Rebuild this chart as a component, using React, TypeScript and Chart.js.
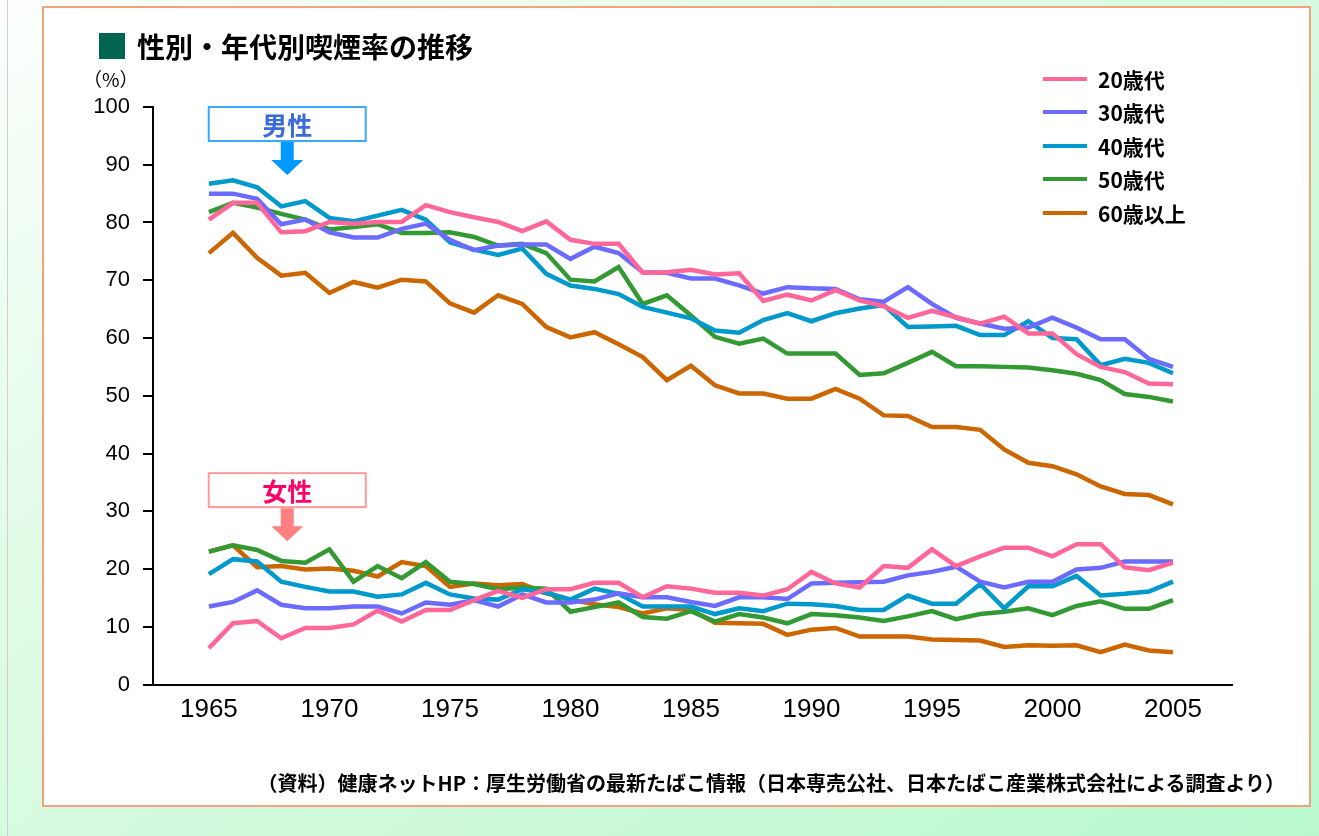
import React, { useEffect, useRef } from "react";
import { Chart, registerables } from "chart.js";

Chart.register(...registerables);

// ---------- data ----------
const years = [
  1965, 1966, 1967, 1968, 1969, 1970, 1971, 1972, 1973, 1974,
  1975, 1976, 1977, 1978, 1979, 1980, 1981, 1982, 1983, 1984,
  1985, 1986, 1987, 1988, 1989, 1990, 1991, 1992, 1993, 1994,
  1995, 1996, 1997, 1998, 1999, 2000, 2001, 2002, 2003, 2004, 2005,
];
const xTickYears = [1965, 1970, 1975, 1980, 1985, 1990, 1995, 2000, 2005];
const seriesLabels = ["20歳代", "30歳代", "40歳代", "50歳代", "60歳以上"];
const seriesColors = ["#FF6699", "#6B6BFF", "#0099CC", "#339933", "#CC6600"];

const male20 = [80.5, 83.4, 83.4, 78.3, 78.5, 80.1, 79.8, 80.1, 80.1, 83.0, 81.8, 80.9, 80.1,
  78.5, 80.2, 77.0, 76.3, 76.3, 71.3, 71.4, 71.8, 71.0, 71.2, 66.4, 67.5, 66.5, 68.3, 66.5,
  65.5, 63.5, 64.7, 63.6, 62.5, 63.7, 60.8, 60.8, 57.2, 55.0, 54.1, 52.1, 52.0];
const male30 = [85.0, 85.0, 84.1, 79.7, 80.5, 78.3, 77.4, 77.4, 78.9, 79.8, 77.0, 75.2, 76.0,
  76.2, 76.2, 73.7, 75.8, 74.7, 71.4, 71.3, 70.3, 70.3, 69.1, 67.7, 68.8, 68.6, 68.5, 66.7,
  66.3, 68.8, 65.9, 63.5, 62.5, 61.6, 61.8, 63.5, 61.8, 59.8, 59.8, 56.4, 55.0];
const male40 = [86.7, 87.3, 86.1, 82.8, 83.7, 80.8, 80.2, 81.2, 82.2, 80.5, 76.6, 75.3, 74.4,
  75.5, 71.1, 69.1, 68.5, 67.6, 65.4, 64.4, 63.4, 61.3, 60.9, 63.1, 64.3, 62.9, 64.3, 65.1,
  65.7, 61.9, 62.0, 62.1, 60.5, 60.5, 62.9, 60.0, 59.8, 55.3, 56.4, 55.7, 53.9];
const male50 = [81.8, 83.4, 82.6, 81.5, 80.5, 78.8, 79.2, 79.7, 78.2, 78.2, 78.3, 77.5, 76.0,
  76.3, 74.7, 70.1, 69.8, 72.3, 65.9, 67.4, 63.9, 60.2, 59.0, 59.9, 57.3, 57.3, 57.3, 53.6,
  53.9, 55.7, 57.6, 55.1, 55.1, 55.0, 54.9, 54.4, 53.8, 52.7, 50.3, 49.8, 49.0];
const male60 = [74.7, 78.2, 73.9, 70.8, 71.3, 67.8, 69.7, 68.7, 70.1, 69.8, 66.0, 64.4, 67.4,
  65.9, 61.9, 60.1, 61.0, 58.9, 56.7, 52.7, 55.2, 51.8, 50.4, 50.4, 49.5, 49.5, 51.2, 49.5,
  46.6, 46.5, 44.6, 44.6, 44.1, 40.7, 38.4, 37.8, 36.4, 34.3, 33.0, 32.8, 31.2];

const female20 = [6.3, 10.6, 11.0, 8.0, 9.8, 9.8, 10.4, 12.8, 10.9, 12.9, 12.9, 14.6, 16.2,
  15.0, 16.5, 16.5, 17.6, 17.6, 15.1, 17.0, 16.6, 15.9, 15.9, 15.4, 16.5, 19.5, 17.5, 16.8,
  20.5, 20.2, 23.4, 20.5, 22.2, 23.7, 23.7, 22.2, 24.3, 24.3, 20.3, 19.8, 21.1];
const female30 = [13.5, 14.3, 16.3, 13.8, 13.2, 13.2, 13.5, 13.5, 12.3, 14.2, 13.8, 14.6, 13.5,
  15.6, 14.2, 14.2, 14.7, 15.8, 15.1, 15.1, 14.3, 13.6, 15.1, 15.1, 14.8, 17.5, 17.6, 17.7,
  17.8, 18.9, 19.5, 20.4, 17.8, 16.8, 17.8, 17.8, 19.9, 20.2, 21.3, 21.3, 21.3];
const female40 = [19.1, 21.7, 21.3, 17.8, 16.9, 16.1, 16.1, 15.2, 15.6, 17.6, 15.6, 14.9, 14.7,
  16.5, 15.9, 14.7, 16.6, 15.7, 13.5, 13.5, 13.5, 12.2, 13.2, 12.7, 14.0, 13.9, 13.6, 12.9,
  12.9, 15.4, 14.0, 14.0, 17.4, 13.2, 17.0, 17.0, 18.8, 15.4, 15.7, 16.1, 17.8];
const female50 = [23.0, 24.1, 23.3, 21.4, 21.1, 23.4, 17.8, 20.5, 18.4, 21.2, 17.8, 17.4, 16.5,
  16.8, 16.6, 12.6, 13.4, 14.2, 11.7, 11.4, 12.7, 10.9, 12.2, 11.6, 10.6, 12.2, 12.0, 11.6,
  11.0, 11.8, 12.7, 11.3, 12.2, 12.6, 13.2, 12.0, 13.6, 14.4, 13.1, 13.1, 14.6];
const female60 = [23.0, 24.1, 20.3, 20.5, 19.9, 20.1, 19.7, 18.7, 21.2, 20.5, 16.9, 17.5, 17.2,
  17.4, 15.8, 14.7, 13.9, 13.4, 12.3, 13.2, 12.9, 10.7, 10.6, 10.5, 8.6, 9.5, 9.8, 8.3,
  8.3, 8.3, 7.8, 7.7, 7.6, 6.5, 6.8, 6.7, 6.8, 5.6, 6.9, 5.9, 5.6];

const maleSeries = [male20, male30, male40, male50, male60];
const femaleSeries = [female20, female30, female40, female50, female60];

const groupMarkers = [
  { text: "男性", year: 1968.25, boxTop: 100, border: "#3AA8FF", textColor: "#3A6AD8", arrow: "#0099FF" },
  { text: "女性", year: 1968.25, boxTop: 36.6, border: "#FF9A9A", textColor: "#FF0066", arrow: "#FF8080" },
];

const title = "性別・年代別喫煙率の推移";
const unitLabel = "（%）";
const sourceText = "（資料）健康ネットHP：厚生労働省の最新たばこ情報（日本専売公社、日本たばこ産業株式会社による調査より）";

// ---------- styles ----------
const JP = '"Noto Sans CJK JP", "Noto Sans", sans-serif';
const NUM = '"Liberation Sans", Arial, sans-serif';

const groupPlugin = {
  id: "groupMarkers",
  afterDraw(chart: any) {
    const { ctx, scales } = chart;
    const xs = scales.x;
    const ys = scales.y;
    groupMarkers.forEach((m) => {
      const cx = xs.getPixelForValue(m.year);
      const top = ys.getPixelForValue(m.boxTop);
      const w = 157;
      const h = 34;
      ctx.save();
      ctx.fillStyle = "#ffffff";
      ctx.fillRect(cx - w / 2, top, w, h);
      ctx.strokeStyle = m.border;
      ctx.lineWidth = 2;
      ctx.strokeRect(cx - w / 2, top, w, h);
      ctx.fillStyle = m.textColor;
      ctx.font = `bold 25px ${JP}`;
      ctx.textAlign = "center";
      ctx.textBaseline = "middle";
      ctx.fillText(m.text, cx, top + h / 2 + 1);
      const a0 = top + h + 1;
      ctx.fillStyle = m.arrow;
      ctx.beginPath();
      ctx.moveTo(cx - 6.5, a0);
      ctx.lineTo(cx + 6.5, a0);
      ctx.lineTo(cx + 6.5, a0 + 18);
      ctx.lineTo(cx + 16, a0 + 18);
      ctx.lineTo(cx, a0 + 33);
      ctx.lineTo(cx - 16, a0 + 18);
      ctx.lineTo(cx - 6.5, a0 + 18);
      ctx.closePath();
      ctx.fill();
      ctx.restore();
    });
  },
};

export default function App() {
  const canvasRef = useRef<HTMLCanvasElement | null>(null);

  useEffect(() => {
    const canvas = canvasRef.current;
    if (!canvas) return;
    const makeSet = (label: string, arr: number[], color: string) => ({
      label,
      data: years.map((yr, i) => ({ x: yr, y: arr[i] })),
      borderColor: color,
      backgroundColor: color,
      borderWidth: 4.5,
      pointRadius: 0,
      pointHoverRadius: 0,
      tension: 0,
      fill: false,
    });
    const datasets: any[] = [];
    maleSeries.forEach((arr, i) => datasets.push(makeSet(seriesLabels[i] + "（男性）", arr, seriesColors[i])));
    femaleSeries.forEach((arr, i) => datasets.push(makeSet(seriesLabels[i] + "（女性）", arr, seriesColors[i])));
    datasets.forEach((d, idx) => { d.order = idx % 5; });

    const chart = new Chart(canvas, {
      type: "line",
      data: { datasets },
      plugins: [groupPlugin],
      options: {
        responsive: false,
        animation: false,
        devicePixelRatio: 1,
        layout: { padding: { left: 49, right: 77, top: 99, bottom: 70.5 } },
        plugins: {
          legend: { display: false },
          tooltip: { enabled: false },
          title: { display: false },
        },
        scales: {
          x: {
            type: "linear",
            min: 1962.68,
            max: 2007.45,
            afterBuildTicks: (s: any) => {
              s.ticks = xTickYears.map((v) => ({ value: v }));
            },
            afterFit: (s: any) => {
              s.height = 50;
            },
            grid: { display: false, drawTicks: false },
            border: { display: true, color: "#000000", width: 2 },
            ticks: {
              autoSkip: false,
              maxRotation: 0,
              padding: 10,
              color: "#000000",
              font: { family: NUM, size: 26 },
              callback: (v: any) => String(v),
            },
          },
          y: {
            min: 0,
            max: 100,
            afterFit: (s: any) => {
              s.width = 60;
            },
            grid: {
              drawOnChartArea: false,
              drawTicks: true,
              tickLength: 10,
              color: "#000000",
              lineWidth: 2,
            },
            border: { display: true, color: "#000000", width: 2 },
            ticks: {
              stepSize: 10,
              padding: 13,
              color: "#000000",
              font: { family: NUM, size: 22 },
            },
          },
        },
      },
    });
    return () => chart.destroy();
  }, []);

  return (
    <div
      style={{
        position: "absolute",
        left: 0,
        top: 0,
        width: 1319,
        height: 836,
        overflow: "hidden",
        background: "linear-gradient(to bottom right, #fcfffc 0%, #e0fbe6 35%, #b9f8cd 100%)",
        fontFamily: JP,
      }}
    >
      <div style={{ position: "absolute", left: 7, top: 0, width: 1, height: 836, background: "#cfcfcf" }} />
      <div
        style={{
          position: "absolute",
          left: 42,
          top: 6,
          width: 1269,
          height: 801,
          boxSizing: "border-box",
          background: "#ffffff",
          border: "2px solid #F3A37C",
        }}
      />
      <canvas
        ref={canvasRef}
        width={1265}
        height={797}
        style={{ position: "absolute", left: 44, top: 8, width: 1265, height: 797 }}
      />
      {/* title */}
      <div style={{ position: "absolute", left: 99, top: 33, width: 26, height: 26, background: "#00664F" }} />
      <div
        style={{
          position: "absolute",
          left: 137,
          top: 27,
          lineHeight: "38px",
          fontSize: 28,
          fontWeight: "bold",
          color: "#000",
          whiteSpace: "nowrap",
        }}
      >
        {title}
      </div>
      <div
        style={{
          position: "absolute",
          left: 83,
          top: 66,
          lineHeight: "26px",
          fontSize: 19,
          color: "#000",
          whiteSpace: "nowrap",
        }}
      >
        {unitLabel}
      </div>
      {/* legend */}
      {seriesLabels.map((lab, i) => {
        const cy = 79 + i * 33.4;
        return (
          <div key={lab}>
            <div
              style={{
                position: "absolute",
                left: 1043,
                top: cy - 2,
                width: 44,
                height: 4,
                background: seriesColors[i],
              }}
            />
            <div
              style={{
                position: "absolute",
                left: 1098,
                top: cy - 13,
                lineHeight: "26px",
                fontSize: 21,
                fontWeight: "bold",
                color: "#000",
                whiteSpace: "nowrap",
              }}
            >
              {lab}
            </div>
          </div>
        );
      })}
      {/* source */}
      <div
        style={{
          position: "absolute",
          right: 34,
          top: 770,
          lineHeight: "26px",
          fontSize: 20,
          fontWeight: "bold",
          color: "#000",
          whiteSpace: "nowrap",
        }}
      >
        {sourceText}
      </div>
    </div>
  );
}
